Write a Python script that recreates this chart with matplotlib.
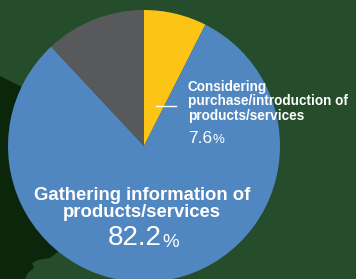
import matplotlib
matplotlib.use("Agg")
import matplotlib.pyplot as plt
from matplotlib.patches import Polygon

# data
slice_names = ["Considering purchase/introduction of products/services",
               "Gathering information of products/services",
               "Other"]
shares = [7.6, 82.2, 12.2]
slice_colors = ["#fcc415", "#5087c1", "#58595b"]
small_label = "Considering\npurchase/introduction of\nproducts/services"
small_value = "7.6"
big_label = "Gathering information of\nproducts/services"
big_value = "82.2"

font = "Liberation Sans"

W, H = 356, 279
bg = "#264d2b"
fig = plt.figure(figsize=(W / 100, H / 100), dpi=100, facecolor=bg)
ax = fig.add_axes([0, 0, 1, 1])
ax.set_facecolor(bg)

def py(y):
    # pixel row (from top) -> data y
    return H - y

# background decoration
dark = [(0, 76), (22, 87), (60, 110), (120, 200), (120, 279), (0, 279)]
ax.add_patch(Polygon([(x, py(y)) for x, y in dark], closed=True, fc="#0b260a", ec="none", zorder=0))
blob = [(25, 279), (28, 273), (34, 268), (32, 263), (38, 260), (50, 258),
        (58, 252), (120, 252), (120, 279)]
ax.add_patch(Polygon([(x, py(y)) for x, y in blob], closed=True, fc=bg, ec="none", zorder=0.5))

ax.pie(shares, colors=slice_colors, startangle=90, counterclock=False,
       center=(144, py(146)), radius=136, frame=True,
       wedgeprops=dict(linewidth=0))
ax.set_xlim(0, W)
ax.set_ylim(0, H)
ax.axis("off")

# small label
ax.plot([156, 176], [py(106), py(106)], color="white", lw=1, zorder=5)
ax.text(188, py(120), small_label, ha="left", va="baseline", color="white",
        fontsize=9.8, fontweight="bold", family=font, linespacing=1.05, zorder=5)
t1 = ax.text(188, py(143), small_value, ha="left", va="baseline", color="white",
             fontsize=12.5, family=font, zorder=5)
ax.annotate("%", xy=(1, 0), xycoords=t1, ha="left", va="bottom", color="white",
            fontsize=9.5, family=font, zorder=5)

# big label
ax.text(142, py(217), big_label, ha="center", va="baseline", color="white",
        fontsize=13.3, fontweight="bold", family=font, linespacing=0.98, zorder=5)
t2 = ax.text(135, py(245), big_value, ha="center", va="baseline", color="white",
             fontsize=20, family=font, zorder=5)
ax.annotate("%", xy=(1, 0), xycoords=t2, ha="left", va="bottom", color="white",
            fontsize=13.5, family=font, zorder=5)

fig.savefig("out.png", dpi=100, facecolor=bg)
